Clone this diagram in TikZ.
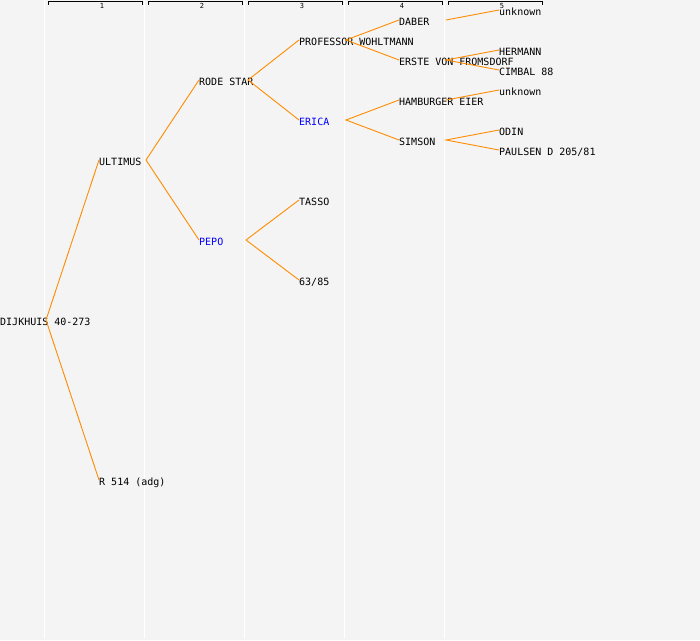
\documentclass[tikz,border=0pt]{standalone}
\usepackage{fontspec}
\newfontfamily\monof{DejaVu Sans Mono}
\definecolor{bgc}{HTML}{F4F4F4}
\definecolor{linec}{HTML}{FF8C00}
\definecolor{bluec}{HTML}{0000FF}
\begin{document}
\begin{tikzpicture}[x=1pt,y=-1pt,
  lbl/.style={anchor=west,inner sep=0pt,font=\monof\fontsize{10}{10}\selectfont,text height=7.3pt,text depth=0pt},
  hl/.style={lbl,text=bluec},
  hdr/.style={inner sep=0pt,font=\monof\fontsize{7}{7}\selectfont},
  conn/.style={draw=linec,line width=0.9pt},
  grid/.style={draw=white,line width=1.2pt},
  brk/.style={draw=black,line width=1pt}]
\fill[bgc] (0,0) rectangle (700,640);
\useasboundingbox (0,0) rectangle (700,640);
% column separators
\foreach \gx in {44.5,144.5,244.5,344.5,444.5}
  \draw[grid] (\gx,0) -- (\gx,638);
% header brackets
\foreach \k/\bx in {1/48,2/148,3/248,4/348,5/448}{
  \draw[brk] (\bx,4.5) -- (\bx,1.5) -- (\bx+94,1.5) -- (\bx+94,4.5);
  \node[hdr] (h\k) at (\bx+54,5.5) {\k};
}
% nodes
\node[lbl] (dijk) at (0,322) {DIJKHUIS 40-273};
\node[lbl] (ult) at (99,162) {ULTIMUS};
\node[lbl] (r514) at (99,482) {R 514 (adg)};
\node[lbl] (rode) at (199,82) {RODE STAR};
\node[hl]  (pepo) at (199,242) {PEPO};
\node[lbl] (prof) at (299,42) {PROFESSOR WOHLTMANN};
\node[hl]  (erica) at (299,122) {ERICA};
\node[lbl] (tasso) at (299,202) {TASSO};
\node[lbl] (n6385) at (299,282) {63/85};
\node[lbl] (daber) at (399,22) {DABER};
\node[lbl] (erste) at (399,62) {ERSTE VON FROMSDORF};
\node[lbl] (hamb) at (399,102) {HAMBURGER EIER};
\node[lbl] (simson) at (399,142) {SIMSON};
\node[lbl] (unk1) at (499,12) {unknown};
\node[lbl] (herm) at (499,52) {HERMANN};
\node[lbl] (cimbal) at (499,72) {CIMBAL 88};
\node[lbl] (unk2) at (499,92) {unknown};
\node[lbl] (odin) at (499,132) {ODIN};
\node[lbl] (paul) at (499,152) {PAULSEN D 205/81};
% branching points
\coordinate (vdijk) at (46,320);
\coordinate (vult) at (146,160);
\coordinate (vrode) at (248,80);
\coordinate (vpepo) at (246,240);
\coordinate (vprof) at (346,40);
\coordinate (verica) at (346,120);
\coordinate (vdaber) at (446,20);
\coordinate (verste) at (446,60);
\coordinate (vhamb) at (446,100);
\coordinate (vsimson) at (446,140);
% connectors
\draw[conn] ([yshift=2pt]ult.west) -- (vdijk) -- ([yshift=2pt]r514.west);
\draw[conn] ([yshift=2pt]rode.west) -- (vult) -- ([yshift=2pt]pepo.west);
\draw[conn] ([yshift=2pt]prof.west) -- (vrode) -- ([yshift=2pt]erica.west);
\draw[conn] ([yshift=2pt]tasso.west) -- (vpepo) -- ([yshift=2pt]n6385.west);
\draw[conn] ([yshift=2pt]daber.west) -- (vprof) -- ([yshift=2pt]erste.west);
\draw[conn] ([yshift=2pt]hamb.west) -- (verica) -- ([yshift=2pt]simson.west);
\draw[conn] (vdaber) -- ([yshift=2pt]unk1.west);
\draw[conn] ([yshift=2pt]herm.west) -- (verste) -- ([yshift=2pt]cimbal.west);
\draw[conn] (vhamb) -- ([yshift=2pt]unk2.west);
\draw[conn] ([yshift=2pt]odin.west) -- (vsimson) -- ([yshift=2pt]paul.west);
\end{tikzpicture}
\end{document}
